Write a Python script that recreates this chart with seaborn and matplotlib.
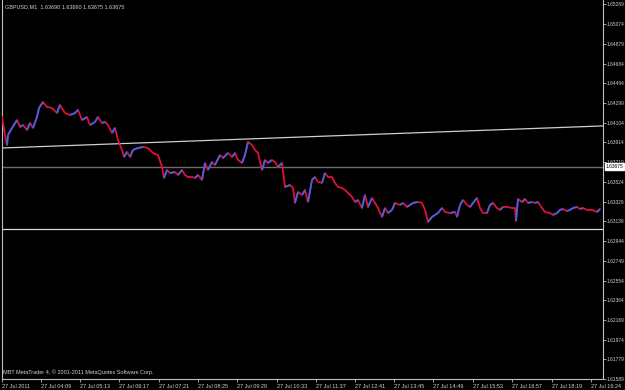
import numpy as np
import pandas as pd
import matplotlib
matplotlib.use("Agg")
import matplotlib.pyplot as plt
import seaborn as sns

# ---- data ----
bar_pos = [2, 5, 7, 8, 12, 17, 20, 23, 27, 30, 33, 37, 39, 43, 47, 52, 57, 60, 65, 70,
           75, 78, 82, 87, 90, 95, 98, 102, 105, 108, 112, 115, 118, 122, 124, 127, 130, 133, 138, 143,
           148, 153, 158, 162, 164, 167, 170, 175, 178, 182, 185, 188, 192, 195, 198, 202, 205, 208, 212, 215,
           220, 223, 228, 232, 235, 238, 242, 245, 248, 252, 255, 258, 262, 265, 268, 272, 275, 278, 282, 285,
           290, 293, 295, 298, 302, 305, 308, 312, 315, 318, 322, 325, 328, 332, 335, 338, 342, 345, 348, 352,
           355, 358, 362, 365, 368, 372, 375, 378, 382, 385, 388, 392, 395, 400, 403, 407, 410, 413, 418, 422,
           425, 428, 432, 435, 438, 442, 445, 450, 455, 457, 460, 463, 467, 470, 473, 477, 480, 483, 487, 490,
           493, 497, 500, 503, 508, 512, 515, 516, 518, 522, 525, 528, 532, 535, 538, 542, 545, 550, 553, 557,
           560, 563, 567, 570, 573, 577, 580, 583, 587, 592, 597, 600]
close = [1.64163, 1.63986, 1.63888, 1.63986, 1.64055, 1.64133, 1.64065, 1.64084, 1.64035, 1.64104,
         1.64055, 1.64163, 1.64251, 1.64310, 1.64261, 1.64251, 1.64202, 1.64281, 1.64202, 1.64183,
         1.64202, 1.64232, 1.64133, 1.64163, 1.64084, 1.64114, 1.64163, 1.64104, 1.64114, 1.64084,
         1.64006, 1.64055, 1.63937, 1.63839, 1.63770, 1.63819, 1.63770, 1.63839, 1.63858, 1.63868,
         1.63858, 1.63809, 1.63789, 1.63671, 1.63563, 1.63642, 1.63612, 1.63622, 1.63593, 1.63642,
         1.63593, 1.63573, 1.63573, 1.63563, 1.63593, 1.63544, 1.63711, 1.63642, 1.63721, 1.63691,
         1.63789, 1.63760, 1.63809, 1.63770, 1.63809, 1.63740, 1.63711, 1.63789, 1.63917, 1.63888,
         1.63839, 1.63809, 1.63642, 1.63740, 1.63711, 1.63740, 1.63721, 1.63671, 1.63711, 1.63475,
         1.63494, 1.63465, 1.63318, 1.63426, 1.63396, 1.63445, 1.63327, 1.63544, 1.63573, 1.63524,
         1.63514, 1.63612, 1.63573, 1.63573, 1.63514, 1.63475, 1.63465, 1.63445, 1.63416, 1.63377,
         1.63327, 1.63347, 1.63268, 1.63396, 1.63278, 1.63367, 1.63318, 1.63268, 1.63180, 1.63268,
         1.63219, 1.63249, 1.63318, 1.63298, 1.63318, 1.63278, 1.63298, 1.63318, 1.63327, 1.63318,
         1.63249, 1.63131, 1.63180, 1.63200, 1.63219, 1.63268, 1.63229, 1.63219, 1.63229, 1.63180,
         1.63298, 1.63347, 1.63298, 1.63278, 1.63318, 1.63367, 1.63268, 1.63219, 1.63219, 1.63298,
         1.63318, 1.63268, 1.63249, 1.63278, 1.63278, 1.63268, 1.63268, 1.63141, 1.63357, 1.63327,
         1.63357, 1.63318, 1.63327, 1.63318, 1.63327, 1.63268, 1.63229, 1.63219, 1.63200, 1.63219,
         1.63249, 1.63258, 1.63239, 1.63249, 1.63268, 1.63278, 1.63258, 1.63268, 1.63249, 1.63249,
         1.63229, 1.63258]

price_ticks = [1.65269, 1.65074, 1.64879, 1.64684, 1.64494, 1.64299, 1.64104, 1.63914, 1.63719,
               1.63524, 1.63329, 1.63139, 1.62944, 1.62749, 1.62554, 1.62364, 1.62169, 1.61974,
               1.61779, 1.61589]
time_tick_pos = [2, 41, 80, 119, 159, 198, 237, 277, 316, 355, 394, 433, 473, 512, 552, 591]
time_labels = ["27 Jul 2011", "27 Jul 04:09", "27 Jul 05:13", "27 Jul 06:17", "27 Jul 07:21",
               "27 Jul 08:25", "27 Jul 09:29", "27 Jul 10:33", "27 Jul 11:37", "27 Jul 12:41",
               "27 Jul 13:45", "27 Jul 14:49", "27 Jul 15:53", "27 Jul 16:57", "27 Jul 18:19",
               "27 Jul 19:24"]
bid_price = 1.63675
hline_price = 1.63062
trend_pos = [2, 603]
trend_price = [1.63858, 1.64075]
title_text = "GBPUSD,M1  1.63690 1.63690 1.63675 1.63675"
copyright_text = "MBT MetaTrader 4, © 2001-2011 MetaQuotes Software Corp."

# ---- styling ----
sns.set_style("dark", {"axes.facecolor": "black", "figure.facecolor": "black"})
plt.rcParams['font.family'] = ['Liberation Sans', 'DejaVu Sans']
txt_col = "#d0d0d0"
axis_col = "#c0c0c0"
fs = 4.0
fs_y = 3.55

W, H = 625, 390
fig = plt.figure(figsize=(W / 100, H / 100), dpi=100, facecolor="black")
ax = fig.add_axes([2 / W, 11 / H, 601 / W, 379 / H])
ax.set_facecolor("black")

df = pd.DataFrame({"pos": bar_pos, "close": close})
sns.lineplot(data=df, x="pos", y="close", ax=ax, color="#e0103c", linewidth=1.3,
             estimator=None, sort=False, zorder=3)
# rising segments in blue
for i in range(len(close) - 1):
    if close[i + 1] > close[i]:
        ax.plot(bar_pos[i:i + 2], close[i:i + 2], color="#3f63e6", linewidth=1.3, zorder=4,
                solid_capstyle="butt")

ax.axhline(bid_price, color="#6c6c6c", linewidth=1.0, zorder=2)
ax.axhline(hline_price, color="#d8d8d8", linewidth=0.9, zorder=2)
ax.plot(trend_pos, trend_price, color="#cfcfcf", linewidth=0.9, zorder=2)

ax.set_xlim(2, 603)
ax.set_ylim(1.61587, 1.65313)
ax.set_xlabel("")
ax.set_ylabel("")
ax.grid(False)

for s in ["left", "right", "bottom"]:
    ax.spines[s].set_visible(True)
    ax.spines[s].set_color(axis_col)
    ax.spines[s].set_linewidth(0.8)
ax.spines["top"].set_visible(False)

ax.yaxis.tick_right()
ax.set_yticks(price_ticks)
ax.set_yticklabels([f"{p:.5f}" for p in price_ticks])
ax.tick_params(axis="y", which="both", right=True, left=False, length=2.0, width=0.6,
               color=axis_col, labelcolor=txt_col, labelsize=fs_y, pad=0.5, direction="out")
ax.set_xticks(time_tick_pos)
ax.set_xticklabels(time_labels, ha="left")
ax.tick_params(axis="x", which="both", bottom=True, length=2.5, width=0.6, color=axis_col,
               labelcolor=txt_col, labelsize=fs, pad=0.8, direction="out")

# bid price box
ax.annotate(f"{bid_price:.5f}", xy=(1.0, bid_price), xycoords=("axes fraction", "data"),
            xytext=(1.8, 0), textcoords="offset points", va="center", ha="left",
            fontsize=fs_y, color="black", zorder=10, annotation_clip=False,
            bbox=dict(boxstyle="square,pad=0.2", facecolor="white", edgecolor="white"))

fig.text(5 / W, 1 - 6.5 / H, title_text, color=txt_col, fontsize=fs, ha="left", va="center")
fig.text(3 / W, 1 - 372 / H, copyright_text, color=txt_col, fontsize=fs, ha="left", va="center")

fig.savefig("out.png", dpi=100, facecolor="black")
